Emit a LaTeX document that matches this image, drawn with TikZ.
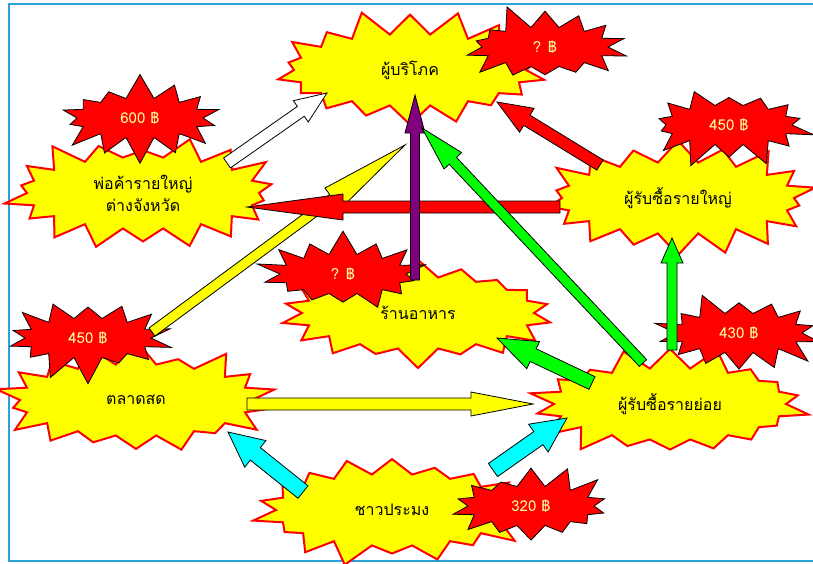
\documentclass[tikz,border=0pt]{standalone}
\usepackage{fontspec}
\setmainfont{Liberation Serif}
\newfontfamily\thaifont[Script=Thai]{Loma}
\usetikzlibrary{shapes.symbols,calc}

\definecolor{framecol}{RGB}{41,163,218}
\definecolor{pricecol}{RGB}{255,255,153}
\definecolor{purplearr}{RGB}{128,0,128}
\definecolor{burstyellow}{RGB}{255,255,0}
\definecolor{burstred}{RGB}{255,0,0}
\definecolor{arrowgreen}{RGB}{0,255,0}
\definecolor{arrowcyan}{RGB}{0,255,255}

\tikzset{
  place/.style={starburst, starburst points=18, starburst point height=26pt,
    fill=burstyellow, draw=burstred, line width=2pt, minimum width=284pt, minimum height=124pt,
    inner sep=0pt, align=center, font=\thaifont\fontsize{16}{22}\selectfont},
  price/.style={starburst, starburst points=14, starburst point height=26pt,
    fill=burstred, draw=black, line width=0.8pt, minimum width=178pt, minimum height=92pt,
    inner sep=0pt, text=pricecol, font=\thaifont\fontsize{15}{17}\selectfont},
  arrowline/.style={draw=black, line width=0.8pt, line join=miter}
}

% block arrow: colour, tail, tip, half shaft, half head, head length
\newcommand{\blockarrow}[6]{%
  \coordinate (ba-t) at #2;
  \coordinate (ba-h) at #3;
  \coordinate (ba-b) at ($(ba-h)!#6!(ba-t)$);
  \filldraw[arrowline, fill=#1] ($(ba-t)!#4!90:(ba-h)$) -- ($(ba-b)!#4!90:(ba-h)$)
    -- ($(ba-b)!#5!90:(ba-h)$) -- (ba-h) -- ($(ba-b)!#5!-90:(ba-h)$)
    -- ($(ba-b)!#4!-90:(ba-h)$) -- ($(ba-t)!#4!-90:(ba-h)$) -- cycle;
}

\begin{document}
\begin{tikzpicture}[x=1pt, y=-1pt]
\useasboundingbox (0,0) rectangle (813,563);

% Frame
\draw[framecol, line width=2pt] (813,4) -- (9,4) -- (9,561) -- (813,561);

% Places
\node[place, random starburst=11] (consumer) at (410,70) {ผู้บริโภค};
\node[place, random starburst=23] (trader) at (143,193) {พ่อค้ารายใหญ่\\ต่างจังหวัด};
\node[place, random starburst=37] (bigbuyer) at (678,198) {ผู้รับซื้อรายใหญ่};
\node[place, random starburst=41] (shop) at (418,313) {ร้านอาหาร};
\node[place, random starburst=53] (market) at (136,400) {ตลาดสด};
\node[place, random starburst=67] (smallbuyer) at (670,404) {ผู้รับซื้อรายย่อย};
\node[place, random starburst=71] (fisher) at (392,510) {ชาวประมง};

% Prices
\node[price, random starburst=5] (p-consumer) at (545,47) {? ฿};
\node[price, random starburst=7] (p-trader) at (140,118) {600 ฿};
\node[price, random starburst=13] (p-bigbuyer) at (729,125) {450 ฿};
\node[price, random starburst=17] (p-shop) at (343,274) {? ฿};
\node[price, random starburst=19] (p-market) at (88,338) {450 ฿};
\node[price, random starburst=29] (p-smallbuyer) at (739,333) {430 ฿};
\node[price, random starburst=31] (p-fisher) at (531,506) {320 ฿};

% Flows
\blockarrow{white}{([shift={(84,-30)}]trader)}{([shift={(-83,23)}]consumer)}{6pt}{13pt}{32pt}
\blockarrow{burstyellow}{([shift={(16,-68)}]market)}{([shift={(-5,75)}]consumer)}{5pt}{13pt}{90pt}
\blockarrow{burstred}{([shift={(-118,9)}]bigbuyer)}{([shift={(104,14)}]trader)}{6pt}{13pt}{96pt}
\blockarrow{purplearr}{([shift={(-3,-33)}]shop)}{([shift={(5,25)}]consumer)}{4.5pt}{10pt}{38pt}
\blockarrow{burstred}{([shift={(-78,-33)}]bigbuyer)}{([shift={(87,32)}]consumer)}{6pt}{14pt}{35pt}
\blockarrow{arrowgreen}{([shift={(-27,-41)}]smallbuyer)}{([shift={(12,58)}]consumer)}{5pt}{12pt}{45pt}
\blockarrow{arrowgreen}{([shift={(2,-54)}]smallbuyer)}{([shift={(-6,40)}]bigbuyer)}{5pt}{11pt}{25pt}
\blockarrow{arrowgreen}{([shift={(-78,-21)}]smallbuyer)}{([shift={(79,25)}]shop)}{7pt}{15pt}{40pt}
\blockarrow{burstyellow}{([shift={(111,4)}]market)}{([shift={(-137,0)}]smallbuyer)}{6pt}{12pt}{62pt}
\blockarrow{arrowcyan}{([shift={(-89,-18)}]fisher)}{([shift={(92,32)}]market)}{8pt}{17pt}{35pt}
\blockarrow{arrowcyan}{([shift={(101,-40)}]fisher)}{([shift={(-103,14)}]smallbuyer)}{8pt}{17pt}{35pt}

\end{tikzpicture}
\end{document}
